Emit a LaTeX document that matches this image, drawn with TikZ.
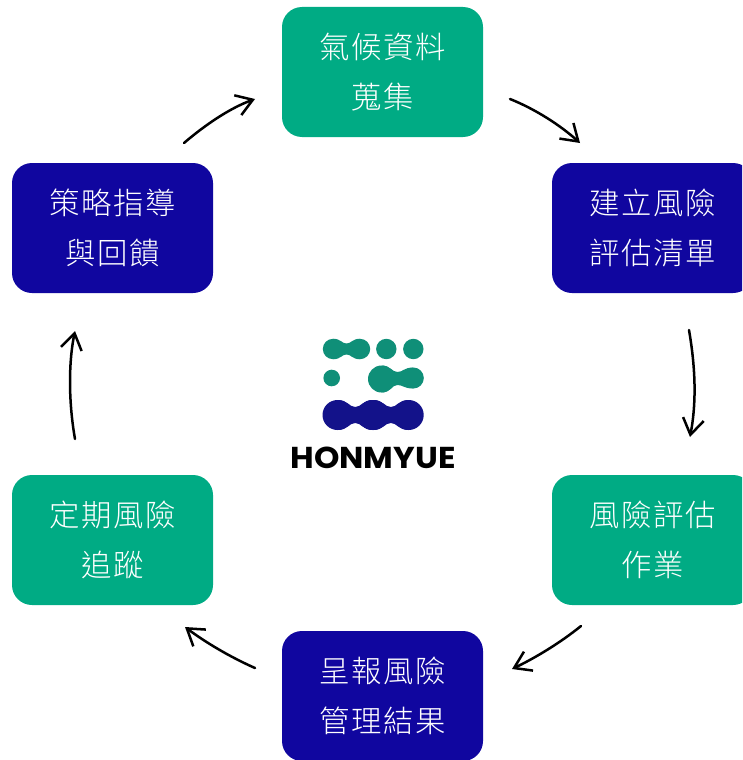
\documentclass[tikz,border=0pt]{standalone}
\usepackage{fontspec}
\usepackage{graphicx}
\usetikzlibrary{arrows.meta}
\newfontfamily\cjk[LetterSpace=5]{Noto Sans CJK TC Light}
\newfontfamily\logofont{Poppins}
\definecolor{stepgreen}{HTML}{00AB84}
\definecolor{stepblue}{HTML}{10069F}
\definecolor{logogreen}{HTML}{0F8F78}
\definecolor{logoblue}{HTML}{13128A}
% two lobes joined by a waisted neck: x1, r1, x2, r2, y1, y2, half neck
\newcommand{\lobepair}[7]{%
  \fill (#1,#5) circle[radius=#2] (#3,#6) circle[radius=#4];
  \fill (#1,#5-#2) .. controls ({(#1+#3)/2-(#3-#1)*0.2},#5-#2) and ({(#1+#3)/2-(#3-#1)*0.18},{(#5+#6)/2-#7}) .. ({(#1+#3)/2},{(#5+#6)/2-#7})
    .. controls ({(#1+#3)/2+(#3-#1)*0.18},{(#5+#6)/2-#7}) and ({(#1+#3)/2+(#3-#1)*0.2},#6-#4) .. (#3,#6-#4)
    -- (#3,#6+#4)
    .. controls ({(#1+#3)/2+(#3-#1)*0.2},#6+#4) and ({(#1+#3)/2+(#3-#1)*0.18},{(#5+#6)/2+#7}) .. ({(#1+#3)/2},{(#5+#6)/2+#7})
    .. controls ({(#1+#3)/2-(#3-#1)*0.18},{(#5+#6)/2+#7}) and ({(#1+#3)/2-(#3-#1)*0.2},#5+#2) .. (#1,#5+#2) -- cycle;
}
\tikzset{
  x=1pt,y=-1pt,
  stepbox/.style={rectangle,rounded corners=20pt,minimum width=201pt,minimum height=130pt,
    inner sep=0pt,text=white,align=center,
    font=\fontsize{30.4pt}{50pt}\selectfont\cjk},
  greenbox/.style={stepbox,fill=stepgreen},
  bluebox/.style={stepbox,fill=stepblue},
  flow/.style={draw=black,line width=2.5pt,line cap=round,
    -{Straight Barb[length=16pt,width=21pt,line width=2.5pt]}},
}
\begin{document}
\begin{tikzpicture}
\useasboundingbox (0,0) rectangle (742,760);
\clip (0,0) rectangle (742,760);
\node[greenbox] (a) at (382.5,72) {氣候資料\\蒐集};
\node[bluebox]  (b) at (652.5,228) {建立風險\\評估清單};
\node[greenbox] (c) at (652.5,540) {風險評估\\作業};
\node[bluebox]  (d) at (382.5,696) {呈報風險\\管理結果};
\node[greenbox] (e) at (112.5,540) {定期風險\\追蹤};
\node[bluebox]  (f) at (112.5,228) {策略指導\\與回饋};

\coordinate (ab1) at (510,99);  \coordinate (ab2) at (580,143);
\coordinate (bc1) at (689,330); \coordinate (bc2) at (690,437);
\coordinate (cd1) at (581,626); \coordinate (cd2) at (512,669);
\coordinate (de1) at (255,668); \coordinate (de2) at (185,627);
\coordinate (ef1) at (75,439);  \coordinate (ef2) at (75,331);
\coordinate (fa1) at (184,143); \coordinate (fa2) at (255,99);
\draw[flow] (ab1) .. controls (535,109) and (560,125) .. (ab2);
\draw[flow] (bc1) .. controls (695,365) and (697,400) .. (bc2);
\draw[flow] (cd1) .. controls (560,643) and (535,658) .. (cd2);
\draw[flow] (de1) .. controls (230,657) and (205,642) .. (de2);
\draw[flow] (ef1) .. controls (69,405) and (68,365) .. (ef2);
\draw[flow] (fa1) .. controls (205,125) and (230,108) .. (fa2);

% logo
\begin{scope}[fill=logogreen]
\lobepair{333}{10.2}{360}{10.2}{349}{349}{5.5}
\fill (386.3,349) circle[radius=10.2] (413.3,349) circle[radius=10.2]
      (331.7,378) circle[radius=8.3];
\lobepair{381.5}{13.5}{413.3}{10.5}{379}{378}{6.5}
\end{scope}
\begin{scope}[fill=logoblue]
\lobepair{337.5}{15}{373}{15}{415}{415}{8}
\lobepair{373}{15}{408.7}{15}{415}{415}{8}
\end{scope}
\node[inner sep=0pt] (logo) at (373,457.5)
  {\resizebox{165pt}{21.5pt}{\logofont\bfseries HONMYUE}};
\end{tikzpicture}
\end{document}
